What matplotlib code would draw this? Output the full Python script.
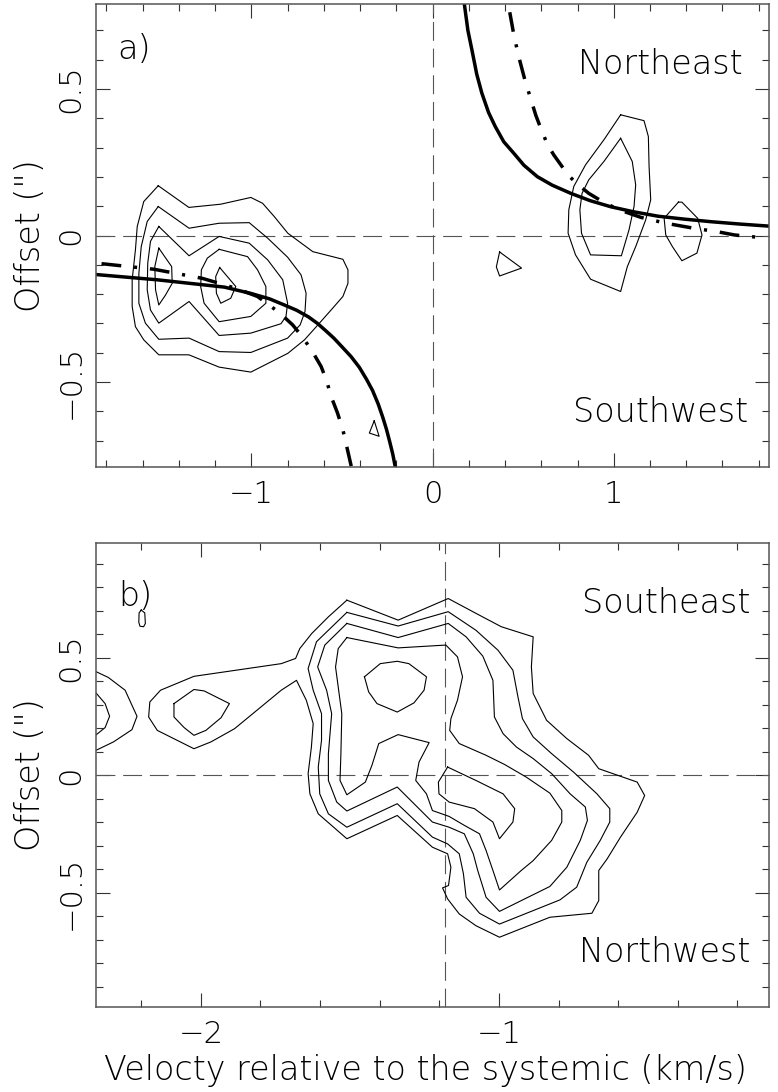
import matplotlib
matplotlib.use("Agg")
import matplotlib.pyplot as plt
from matplotlib.ticker import FixedLocator, MultipleLocator

plt.rcParams["font.family"] = ["DejaVu Sans"]
plt.rcParams["font.weight"] = "light"
plt.rcParams["axes.labelweight"] = "light"

# %% panel a) -- contours (velocity km/s, offset arcsec)
a_west_1 = [(-1.514, 0.170), (-1.345, 0.096), (-1.169, 0.107), (-1.003, 0.130), (-0.938, 0.110),
            (-0.874, 0.065), (-0.799, 0.008), (-0.661, -0.055), (-0.495, -0.081), (-0.467, -0.117),
            (-0.467, -0.163), (-0.495, -0.208), (-0.560, -0.254), (-0.633, -0.305), (-0.707, -0.356),
            (-0.799, -0.402), (-1.003, -0.466), (-1.178, -0.449), (-1.345, -0.407), (-1.511, -0.407),
            (-1.594, -0.356), (-1.640, -0.311), (-1.658, -0.242), (-1.658, -0.151), (-1.640, -0.049),
            (-1.630, 0.031), (-1.594, 0.116)]
a_west_2 = [(-1.514, 0.099), (-1.344, 0.025), (-1.178, 0.042), (-1.012, 0.044), (-0.910, -0.009),
            (-0.800, -0.074), (-0.726, -0.134), (-0.698, -0.197), (-0.704, -0.259), (-0.731, -0.305),
            (-0.800, -0.350), (-1.003, -0.399), (-1.178, -0.396), (-1.344, -0.350), (-1.511, -0.354),
            (-1.585, -0.299), (-1.621, -0.231), (-1.621, -0.129), (-1.608, -0.038), (-1.575, 0.048)]
a_west_3 = [(-1.511, 0.031), (-1.344, -0.069), (-1.178, -0.003), (-1.012, -0.026), (-0.910, -0.083),
            (-0.827, -0.151), (-0.800, -0.231), (-0.809, -0.276), (-0.837, -0.301), (-1.003, -0.333),
            (-1.178, -0.341), (-1.344, -0.225), (-1.511, -0.299), (-1.557, -0.254), (-1.575, -0.185),
            (-1.572, -0.094), (-1.557, -0.020)]
a_west_4a = [(-1.511, -0.043), (-1.440, -0.106), (-1.437, -0.163), (-1.474, -0.203), (-1.511, -0.237),
             (-1.529, -0.185), (-1.533, -0.106)]
a_west_4b = [(-1.178, -0.047), (-1.243, -0.077), (-1.276, -0.117), (-1.280, -0.174), (-1.261, -0.231),
             (-1.178, -0.294), (-1.003, -0.276), (-0.920, -0.231), (-0.920, -0.174), (-0.966, -0.117),
             (-1.021, -0.072)]
a_west_5 = [(-1.175, -0.109), (-1.086, -0.174), (-1.114, -0.214), (-1.169, -0.231), (-1.193, -0.197),
            (-1.197, -0.140)]
a_west_spot = [(-0.322, -0.632), (-0.295, -0.685), (-0.349, -0.674)]
a_east_1 = [(1.038, 0.412), (1.167, 0.392), (1.191, 0.338), (1.195, 0.235), (1.204, 0.122),
            (1.176, 0.053), (1.121, -0.038), (1.075, -0.106), (1.038, -0.191), (0.872, -0.149),
            (0.789, -0.066), (0.748, 0.008), (0.752, 0.088), (0.779, 0.167), (0.844, 0.241),
            (0.946, 0.327)]
a_east_2 = [(1.038, 0.332), (1.102, 0.253), (1.121, 0.173), (1.112, 0.099), (1.084, 0.019),
            (1.042, -0.069), (0.872, -0.066), (0.822, 0.008), (0.813, 0.088), (0.825, 0.144),
            (0.862, 0.190), (0.946, 0.253)]
a_east_knot = [(1.357, 0.114), (1.376, 0.114), (1.463, 0.059), (1.487, 0.002), (1.459, -0.060),
               (1.376, -0.086), (1.324, -0.038), (1.287, 0.002), (1.278, 0.059)]
a_east_spot = [(0.370, -0.056), (0.491, -0.111), (0.370, -0.138), (0.352, -0.107)]

# rotation curves
a_solid_west = [(-1.859, -0.133), (-1.520, -0.151), (-1.149, -0.176), (-1.000, -0.198), (-0.900, -0.216),
                (-0.814, -0.238), (-0.750, -0.255), (-0.684, -0.278), (-0.635, -0.300), (-0.591, -0.324),
                (-0.545, -0.350), (-0.498, -0.381), (-0.450, -0.413), (-0.405, -0.449), (-0.365, -0.490),
                (-0.331, -0.529), (-0.300, -0.575), (-0.275, -0.620), (-0.255, -0.660), (-0.238, -0.700),
                (-0.220, -0.745), (-0.204, -0.795)]
a_solid_east = [(0.174, 0.796), (0.195, 0.700), (0.217, 0.634), (0.244, 0.550), (0.272, 0.486),
                (0.309, 0.420), (0.346, 0.372), (0.393, 0.320), (0.448, 0.281), (0.504, 0.240),
                (0.578, 0.201), (0.660, 0.172), (0.763, 0.144), (0.870, 0.119), (0.985, 0.098),
                (1.110, 0.081), (1.244, 0.066), (1.390, 0.056), (1.541, 0.047), (1.700, 0.039),
                (1.860, 0.032)]
a_dashdot_west = [(-1.827, -0.096), (-1.538, -0.115), (-1.271, -0.146), (-1.086, -0.180), (-0.966, -0.208),
                  (-0.846, -0.263), (-0.772, -0.305), (-0.720, -0.345), (-0.667, -0.392), (-0.615, -0.447),
                  (-0.585, -0.495), (-0.560, -0.549), (-0.525, -0.605), (-0.495, -0.663), (-0.470, -0.730),
                  (-0.446, -0.795)]
a_dashdot_east = [(0.426, 0.762), (0.450, 0.680), (0.480, 0.600), (0.510, 0.530), (0.540, 0.470),
                  (0.570, 0.410), (0.604, 0.355), (0.635, 0.310), (0.669, 0.275), (0.750, 0.205),
                  (0.800, 0.175), (0.862, 0.144), (0.940, 0.115), (1.029, 0.088), (1.150, 0.062),
                  (1.287, 0.042), (1.450, 0.024), (1.564, 0.014), (1.666, 0.002), (1.830, -0.008)]

# %% panel b)
b_lev1 = [(-1.510, 0.744), (-1.338, 0.659), (-1.170, 0.751), (-1.077, 0.688), (-0.992, 0.631),
          (-0.885, 0.588), (-0.891, 0.460), (-0.885, 0.347), (-0.840, 0.233), (-0.772, 0.155),
          (-0.699, 0.084), (-0.665, 0.027), (-0.536, -0.030), (-0.511, -0.087), (-0.536, -0.158),
          (-0.592, -0.264), (-0.637, -0.357), (-0.665, -0.406), (-0.665, -0.534), (-0.688, -0.588),
          (-0.829, -0.605), (-0.998, -0.690), (-1.077, -0.641), (-1.133, -0.591), (-1.172, -0.527),
          (-1.189, -0.480), (-1.169, -0.470), (-1.161, -0.392), (-1.172, -0.335), (-1.223, -0.307),
          (-1.341, -0.172), (-1.510, -0.271), (-1.606, -0.165), (-1.634, -0.080), (-1.640, 0.006),
          (-1.629, 0.119), (-1.623, 0.219), (-1.646, 0.318), (-1.679, 0.403), (-1.730, 0.361),
          (-1.887, 0.197), (-1.966, 0.141), (-2.023, 0.112), (-2.146, 0.190), (-2.175, 0.247),
          (-2.171, 0.311), (-2.135, 0.361), (-2.023, 0.420), (-1.730, 0.474), (-1.682, 0.496),
          (-1.668, 0.538), (-1.628, 0.602), (-1.572, 0.673)]
b_lev2 = [(-1.510, 0.692), (-1.338, 0.634), (-1.170, 0.695), (-1.077, 0.616), (-1.003, 0.531),
          (-0.953, 0.446), (-0.936, 0.332), (-0.921, 0.240), (-0.885, 0.162), (-0.823, 0.091),
          (-0.750, 0.013), (-0.671, -0.080), (-0.628, -0.143), (-0.628, -0.200), (-0.660, -0.278),
          (-0.705, -0.371), (-0.739, -0.477), (-0.795, -0.531), (-0.998, -0.634), (-1.065, -0.588),
          (-1.110, -0.520), (-1.119, -0.420), (-1.133, -0.335), (-1.172, -0.293), (-1.223, -0.264),
          (-1.341, -0.122), (-1.510, -0.222), (-1.572, -0.165), (-1.601, -0.080), (-1.606, 0.034),
          (-1.595, 0.148), (-1.595, 0.261), (-1.623, 0.361), (-1.640, 0.453), (-1.612, 0.567)]
b_lev3 = [(-1.510, 0.645), (-1.338, 0.585), (-1.170, 0.645), (-1.110, 0.588), (-1.054, 0.506),
          (-1.020, 0.403), (-1.015, 0.247), (-0.986, 0.176), (-0.941, 0.119), (-0.885, 0.070),
          (-0.823, 0.006), (-0.761, -0.080), (-0.710, -0.136), (-0.703, -0.193), (-0.727, -0.278),
          (-0.772, -0.392), (-0.829, -0.474), (-0.998, -0.580), (-1.043, -0.520), (-1.071, -0.406),
          (-1.086, -0.335), (-1.116, -0.250), (-1.167, -0.222), (-1.223, -0.200), (-1.341, -0.051),
          (-1.510, -0.153), (-1.544, -0.115), (-1.572, -0.023), (-1.572, 0.091), (-1.561, 0.261),
          (-1.578, 0.361), (-1.608, 0.460), (-1.584, 0.553)]
b_lev4 = [(-1.510, 0.585), (-1.338, 0.541), (-1.178, 0.553), (-1.139, 0.503), (-1.122, 0.418),
          (-1.139, 0.318), (-1.161, 0.240), (-1.165, 0.190), (-1.133, 0.134), (-1.043, 0.084),
          (-0.981, 0.045), (-0.908, -0.009), (-0.829, -0.077), (-0.789, -0.151), (-0.789, -0.200),
          (-0.823, -0.278), (-0.885, -0.364), (-0.925, -0.406), (-0.998, -0.489), (-1.020, -0.406),
          (-1.043, -0.321), (-1.065, -0.250), (-1.116, -0.214), (-1.167, -0.176), (-1.223, -0.151),
          (-1.243, -0.080), (-1.279, -0.023), (-1.268, 0.055), (-1.234, 0.138), (-1.338, 0.172),
          (-1.403, 0.134), (-1.426, 0.041), (-1.448, -0.030), (-1.510, -0.084), (-1.533, -0.023),
          (-1.530, 0.091), (-1.527, 0.261), (-1.548, 0.460), (-1.539, 0.538)]
b_lev5_upper = [(-1.451, 0.418), (-1.398, 0.474), (-1.341, 0.484), (-1.302, 0.474), (-1.243, 0.418),
                (-1.251, 0.361), (-1.285, 0.307), (-1.341, 0.268), (-1.409, 0.304), (-1.437, 0.354)]
b_lev5_lower = [(-1.172, 0.034), (-1.077, -0.023), (-0.986, -0.080), (-0.947, -0.143), (-0.953, -0.200),
                (-0.998, -0.271), (-1.020, -0.200), (-1.082, -0.143), (-1.167, -0.115), (-1.201, -0.080),
                (-1.203, -0.030)]
b_knot = [(-2.090, 0.304), (-2.023, 0.364), (-1.989, 0.358), (-1.904, 0.304), (-1.932, 0.244),
          (-1.983, 0.190), (-2.023, 0.169), (-2.056, 0.202), (-2.090, 0.247)]
b_speck = [(-2.200, 0.702), (-2.188, 0.690), (-2.186, 0.645), (-2.192, 0.631), (-2.204, 0.633),
           (-2.208, 0.650), (-2.207, 0.690)]
b_edge_outer = [(-2.360, 0.445), (-2.310, 0.415), (-2.254, 0.361), (-2.214, 0.250), (-2.231, 0.193),
                (-2.293, 0.141), (-2.360, 0.100)]
b_edge_inner = [(-2.360, 0.362), (-2.321, 0.304), (-2.306, 0.250), (-2.321, 0.202), (-2.360, 0.162)]

a_xticks, a_xlabels = [-1, 0, 1], ["\u22121", "0", "1"]
a_yticks, a_ylabels = [-0.5, 0, 0.5], ["\u22120.5", "0", "0.5"]
b_xticks, b_xlabels = [-2, -1], ["\u22122", "\u22121"]
b_yticks, b_ylabels = [-0.5, 0, 0.5], ["\u22120.5", "0", "0.5"]

a_closed = [a_west_1, a_west_2, a_west_3, a_west_4a, a_west_4b, a_west_5, a_west_spot,
            a_east_1, a_east_2, a_east_knot, a_east_spot]
b_closed = [b_lev1, b_lev2, b_lev3, b_lev4, b_lev5_upper, b_lev5_lower, b_knot, b_speck]
b_open = [b_edge_outer, b_edge_inner]

FS = 24
kw_cont = dict(color="black", linewidth=0.8)
kw_ref = dict(color="#555555", linewidth=0.8, linestyle=(0, (17, 7)))
kw_fit = dict(color="black", linewidth=2.5, solid_capstyle="butt")
DASHDOT = (0, (5.7, 3.7, 0.9, 3.7))


def trace(ax, pts, closed=True, **kw):
    xs = [p[0] for p in pts]
    ys = [p[1] for p in pts]
    if closed:
        xs.append(xs[0])
        ys.append(ys[0])
    ax.plot(xs, ys, **kw)


def style(ax, xt, xl, yt, yl, xminor, yminor):
    ax.xaxis.set_major_locator(FixedLocator(xt))
    ax.set_xticklabels(xl)
    ax.yaxis.set_major_locator(FixedLocator(yt))
    ax.set_yticklabels(yl)
    ax.xaxis.set_minor_locator(MultipleLocator(xminor))
    ax.yaxis.set_minor_locator(MultipleLocator(yminor))
    ax.tick_params(which="both", direction="in", top=True, right=True, color="#333333", width=0.8)
    ax.tick_params(which="major", length=10)
    ax.tick_params(which="minor", length=5)
    ax.tick_params(axis="x", labelsize=FS - 2, pad=9)
    ax.tick_params(axis="y", labelsize=FS - 2, pad=8, labelrotation=90)
    for t in ax.get_yticklabels():
        t.set_va("center")
    for s in ax.spines.values():
        s.set_color("#555555")
        s.set_linewidth(1.1)
    ax.set_ylabel("Offset (\")", fontsize=FS, va="center")
    ax.yaxis.set_label_coords(-0.098, 0.5)


fig = plt.figure(figsize=(7.78, 10.92), dpi=100)
ax1 = fig.add_axes([0.124, 0.5723, 0.864, 0.4240])
ax2 = fig.add_axes([0.124, 0.0778, 0.864, 0.4249])

# %% a)
ax1.axhline(0, **kw_ref)
ax1.axvline(0, **kw_ref)
for c in a_closed:
    trace(ax1, c, **kw_cont)
trace(ax1, a_solid_west, closed=False, **kw_fit)
trace(ax1, a_solid_east, closed=False, **kw_fit)
trace(ax1, a_dashdot_west, closed=False, linestyle=DASHDOT, **kw_fit)
trace(ax1, a_dashdot_east, closed=False, linestyle=DASHDOT, **kw_fit)
ax1.set_xlim(-1.855, 1.855)
ax1.set_ylim(-0.79, 0.79)
style(ax1, a_xticks, a_xlabels, a_yticks, a_ylabels, 0.2, 0.1)
ax1.text(-1.74, 0.634, "a)", fontsize=FS, va="center", ha="left")
ax1.text(1.71, 0.552, "Northeast", fontsize=FS, ha="right", va="baseline")
ax1.text(1.74, -0.636, "Southwest", fontsize=FS, ha="right", va="baseline")

# %% b)
ax2.axhline(0, **kw_ref)
ax2.axvline(-1.18, **kw_ref)
for c in b_closed:
    trace(ax2, c, **kw_cont)
for c in b_open:
    trace(ax2, c, closed=False, **kw_cont)
ax2.set_xlim(-2.35, -0.095)
ax2.set_ylim(-0.987, 0.987)
style(ax2, b_xticks, b_xlabels, b_yticks, b_ylabels, 0.2, 0.1)
ax2.text(-2.276, 0.76, "b)", fontsize=FS, va="center", ha="left")
ax2.text(-0.158, 0.688, "Southeast", fontsize=FS, ha="right", va="baseline")
ax2.text(-0.158, -0.797, "Northwest", fontsize=FS, ha="right", va="baseline")
ax2.set_xlabel("Velocty relative to the systemic (km/s)", fontsize=FS, va="center")
ax2.xaxis.set_label_coords(0.49, -0.136)

plt.savefig("out.png", dpi=100)
plt.close()
